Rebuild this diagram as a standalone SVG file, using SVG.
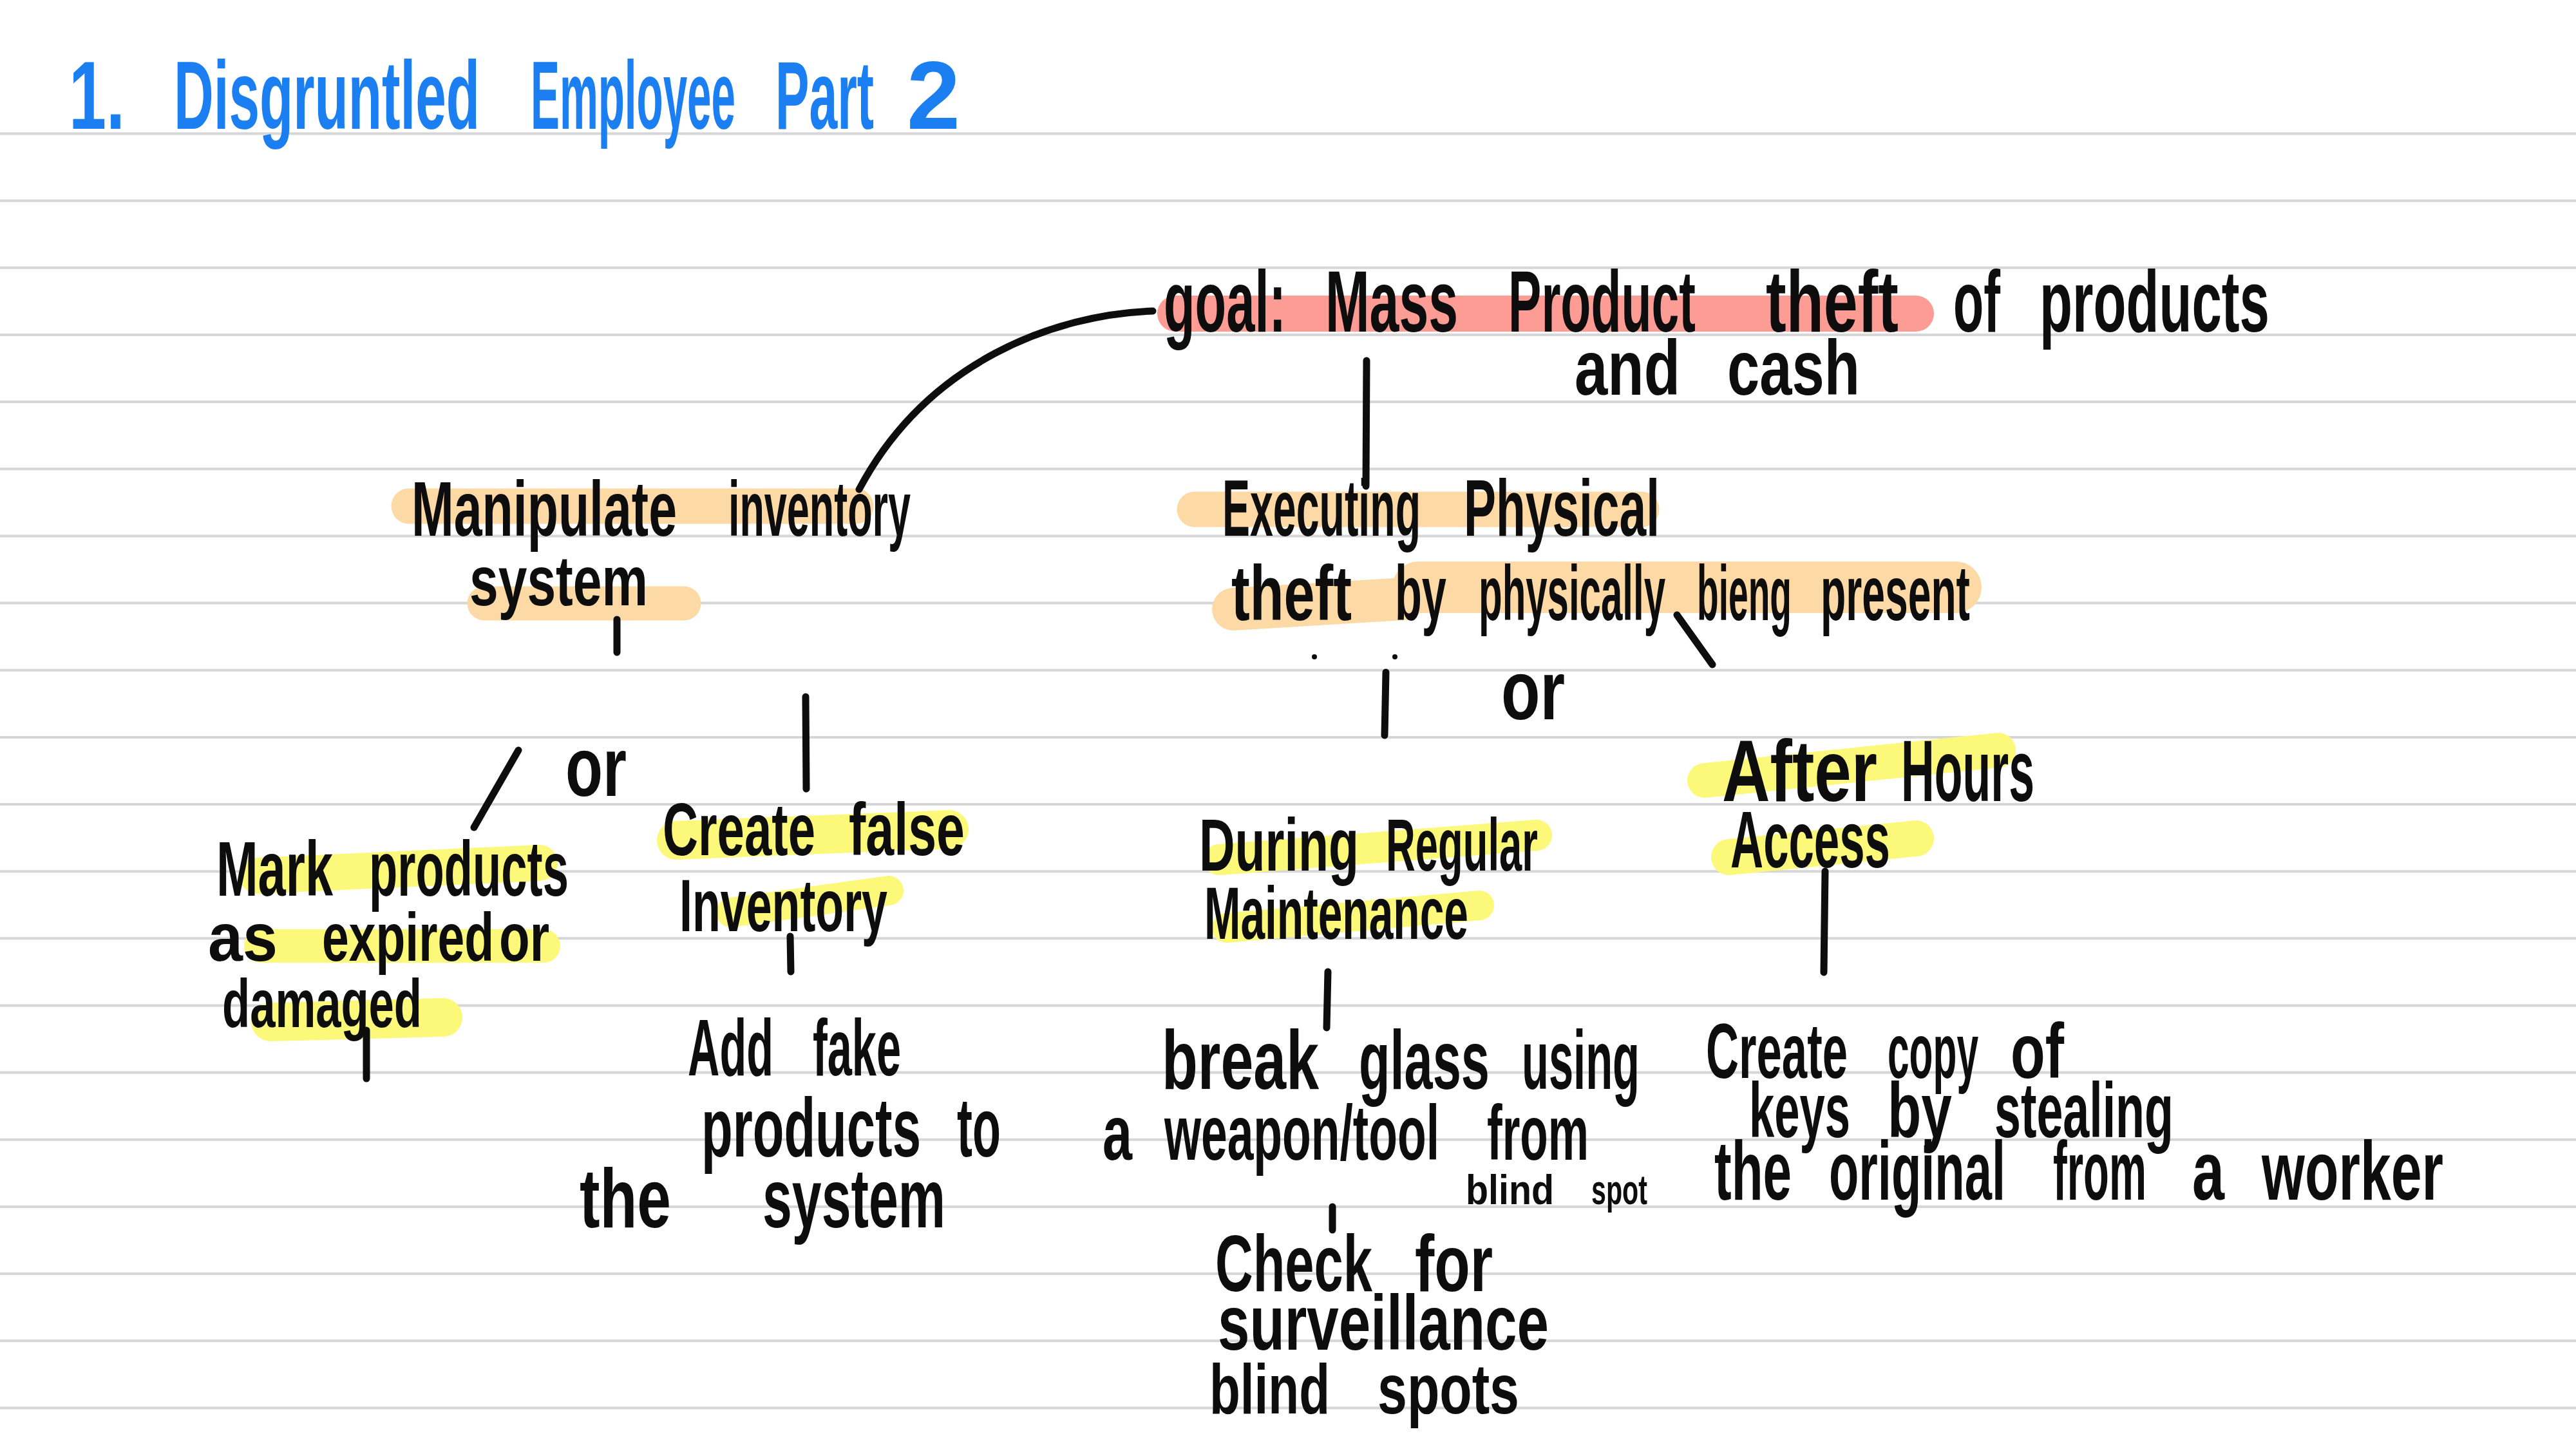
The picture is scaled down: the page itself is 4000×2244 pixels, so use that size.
<svg xmlns="http://www.w3.org/2000/svg" width="4000" height="2244" viewBox="0 0 4000 2244">
<style>
.rule{stroke:#d6d6d6;stroke-width:4}
.t{font-family:"Liberation Sans",Arial,sans-serif;font-weight:bold;fill:#0d0d0d}
.title{font-family:"Liberation Sans",Arial,sans-serif;font-weight:bold;fill:#1b7ff2}
.c{stroke:#0d0d0d;stroke-width:11;stroke-linecap:round;fill:none}
.hy{stroke:#fcf97a;stroke-linecap:round;fill:none}
.ho{stroke:#fddaa5;stroke-linecap:round;fill:none}
.hr{stroke:#fd9b95;stroke-linecap:round;fill:none}
</style>
<rect width="4000" height="2244" fill="#ffffff"/>
<g id="ruled-lines">
<line class="rule" x1="0" x2="4000" y1="207.5" y2="207.5"/>
<line class="rule" x1="0" x2="4000" y1="311.7" y2="311.7"/>
<line class="rule" x1="0" x2="4000" y1="415.8" y2="415.8"/>
<line class="rule" x1="0" x2="4000" y1="520" y2="520"/>
<line class="rule" x1="0" x2="4000" y1="624.1" y2="624.1"/>
<line class="rule" x1="0" x2="4000" y1="728.3" y2="728.3"/>
<line class="rule" x1="0" x2="4000" y1="832.4" y2="832.4"/>
<line class="rule" x1="0" x2="4000" y1="936.6" y2="936.6"/>
<line class="rule" x1="0" x2="4000" y1="1040.7" y2="1040.7"/>
<line class="rule" x1="0" x2="4000" y1="1144.9" y2="1144.9"/>
<line class="rule" x1="0" x2="4000" y1="1249" y2="1249"/>
<line class="rule" x1="0" x2="4000" y1="1353.2" y2="1353.2"/>
<line class="rule" x1="0" x2="4000" y1="1457.3" y2="1457.3"/>
<line class="rule" x1="0" x2="4000" y1="1561.5" y2="1561.5"/>
<line class="rule" x1="0" x2="4000" y1="1665.6" y2="1665.6"/>
<line class="rule" x1="0" x2="4000" y1="1769.8" y2="1769.8"/>
<line class="rule" x1="0" x2="4000" y1="1873.9" y2="1873.9"/>
<line class="rule" x1="0" x2="4000" y1="1978.1" y2="1978.1"/>
<line class="rule" x1="0" x2="4000" y1="2082.2" y2="2082.2"/>
<line class="rule" x1="0" x2="4000" y1="2186.4" y2="2186.4"/>
</g>
<g id="highlights">
<line class="hr" x1="1825" y1="487" x2="2975" y2="487" stroke-width="56"/>
<line class="ho" x1="635" y1="786" x2="1329" y2="786" stroke-width="55"/>
<line class="ho" x1="752" y1="937" x2="1062" y2="937" stroke-width="53"/>
<line class="ho" x1="1855" y1="791" x2="2549" y2="791" stroke-width="55"/>
<line class="ho" x1="1915" y1="946" x2="2180" y2="930" stroke-width="66"/>
<line class="ho" x1="2202" y1="912" x2="3037" y2="912" stroke-width="80"/>
<line class="hy" x1="400" y1="1360" x2="838" y2="1340" stroke-width="56"/>
<line class="hy" x1="405" y1="1469" x2="844" y2="1469" stroke-width="52"/>
<line class="hy" x1="420" y1="1587" x2="688" y2="1580" stroke-width="60"/>
<line class="hy" x1="1050" y1="1305" x2="1474" y2="1288" stroke-width="60"/>
<line class="hy" x1="1135" y1="1417" x2="1380" y2="1383" stroke-width="46"/>
<line class="hy" x1="1893" y1="1335" x2="2386" y2="1297" stroke-width="48"/>
<line class="hy" x1="1905" y1="1441" x2="2297" y2="1406" stroke-width="46"/>
<line class="hy" x1="2647" y1="1212" x2="3103" y2="1165" stroke-width="54"/>
<line class="hy" x1="2685" y1="1331" x2="2975" y2="1302" stroke-width="56"/>
</g>
<g id="connectors">
<path class="c" d="M1790,483 C1640,488 1440,560 1334,760"/>
<line class="c" x1="2122" y1="560" x2="2121" y2="755"/>
<line class="c" x1="958" y1="962" x2="958" y2="1013"/>
<line class="c" x1="805" y1="1165" x2="736" y2="1285"/>
<line class="c" x1="1251" y1="1082" x2="1252" y2="1225"/>
<line class="c" x1="1227" y1="1454" x2="1228" y2="1509"/>
<line class="c" x1="569" y1="1600" x2="569" y2="1675"/>
<line class="c" x1="2604" y1="955" x2="2659" y2="1032"/>
<line class="c" x1="2152" y1="1044" x2="2150" y2="1142"/>
<circle cx="2041" cy="1020" r="4" fill="#0d0d0d"/>
<circle cx="2166" cy="1020" r="4" fill="#0d0d0d"/>
<line class="c" x1="2062" y1="1509" x2="2060" y2="1596"/>
<line class="c" x1="2069" y1="1874" x2="2069" y2="1910"/>
<line class="c" x1="2834" y1="1353" x2="2832" y2="1510"/>
</g>
<g id="title">
<text class="title" y="200" font-size="150"><tspan x="107" textLength="87" lengthAdjust="spacingAndGlyphs">1.</tspan> <tspan x="270" textLength="475" lengthAdjust="spacingAndGlyphs">Disgruntled</tspan> <tspan x="824" textLength="318" lengthAdjust="spacingAndGlyphs">Employee</tspan> <tspan x="1204" textLength="153" lengthAdjust="spacingAndGlyphs">Part</tspan> <tspan x="1408" textLength="83" lengthAdjust="spacingAndGlyphs">2</tspan></text>
</g>
<g id="goal">
<text class="t" y="515" font-size="135"><tspan x="1807" textLength="190" lengthAdjust="spacingAndGlyphs">goal:</tspan> <tspan x="2058" textLength="206" lengthAdjust="spacingAndGlyphs">Mass</tspan> <tspan x="2342" textLength="291" lengthAdjust="spacingAndGlyphs">Product</tspan> <tspan x="2742" textLength="206" lengthAdjust="spacingAndGlyphs">theft</tspan> <tspan x="3033" textLength="73" lengthAdjust="spacingAndGlyphs">of</tspan> <tspan x="3167" textLength="357" lengthAdjust="spacingAndGlyphs">products</tspan></text>
<text class="t" y="613" font-size="120"><tspan x="2445" textLength="164" lengthAdjust="spacingAndGlyphs">and</tspan> <tspan x="2682" textLength="206" lengthAdjust="spacingAndGlyphs">cash</tspan></text>
</g>
<g id="manipulate-inventory">
<text class="t" y="832" font-size="120"><tspan x="639" textLength="412" lengthAdjust="spacingAndGlyphs">Manipulate</tspan> <tspan x="1131" textLength="283" lengthAdjust="spacingAndGlyphs">inventory</tspan></text>
<text class="t" y="940" font-size="110"><tspan x="729" textLength="277" lengthAdjust="spacingAndGlyphs">system</tspan></text>
</g>
<g id="executing-physical">
<text class="t" y="832" font-size="125"><tspan x="1898" textLength="308" lengthAdjust="spacingAndGlyphs">Executing</tspan> <tspan x="2273" textLength="304" lengthAdjust="spacingAndGlyphs">Physical</tspan></text>
<text class="t" y="963" font-size="120"><tspan x="1912" textLength="187" lengthAdjust="spacingAndGlyphs">theft</tspan> <tspan x="2166" textLength="80" lengthAdjust="spacingAndGlyphs">by</tspan> <tspan x="2296" textLength="290" lengthAdjust="spacingAndGlyphs">physically</tspan> <tspan x="2635" textLength="147" lengthAdjust="spacingAndGlyphs">bieng</tspan> <tspan x="2827" textLength="232" lengthAdjust="spacingAndGlyphs">present</tspan></text>
</g>
<g id="or-left">
<text class="t" y="1236" font-size="130"><tspan x="878" textLength="95" lengthAdjust="spacingAndGlyphs">or</tspan></text>
</g>
<g id="or-middle">
<text class="t" y="1117" font-size="130"><tspan x="2331" textLength="99" lengthAdjust="spacingAndGlyphs">or</tspan></text>
</g>
<g id="mark-products">
<text class="t" y="1391" font-size="120"><tspan x="336" textLength="181" lengthAdjust="spacingAndGlyphs">Mark</tspan> <tspan x="573" textLength="310" lengthAdjust="spacingAndGlyphs">products</tspan></text>
<text class="t" y="1492" font-size="105"><tspan x="323" textLength="108" lengthAdjust="spacingAndGlyphs">as</tspan> <tspan x="500" textLength="267" lengthAdjust="spacingAndGlyphs">expired</tspan> <tspan x="775" textLength="78" lengthAdjust="spacingAndGlyphs">or</tspan></text>
<text class="t" y="1595" font-size="105"><tspan x="345" textLength="310" lengthAdjust="spacingAndGlyphs">damaged</tspan></text>
</g>
<g id="create-false-inventory">
<text class="t" y="1328" font-size="115"><tspan x="1029" textLength="237" lengthAdjust="spacingAndGlyphs">Create</tspan> <tspan x="1318" textLength="180" lengthAdjust="spacingAndGlyphs">false</tspan></text>
<text class="t" y="1446" font-size="115"><tspan x="1055" textLength="323" lengthAdjust="spacingAndGlyphs">Inventory</tspan></text>
</g>
<g id="add-fake-products">
<text class="t" y="1670" font-size="125"><tspan x="1068" textLength="133" lengthAdjust="spacingAndGlyphs">Add</tspan> <tspan x="1262" textLength="137" lengthAdjust="spacingAndGlyphs">fake</tspan></text>
<text class="t" y="1796" font-size="130"><tspan x="1089" textLength="341" lengthAdjust="spacingAndGlyphs">products</tspan> <tspan x="1486" textLength="68" lengthAdjust="spacingAndGlyphs">to</tspan></text>
<text class="t" y="1906" font-size="130"><tspan x="900" textLength="142" lengthAdjust="spacingAndGlyphs">the</tspan> <tspan x="1184" textLength="284" lengthAdjust="spacingAndGlyphs">system</tspan></text>
</g>
<g id="during-regular-maintenance">
<text class="t" y="1352" font-size="115"><tspan x="1862" textLength="248" lengthAdjust="spacingAndGlyphs">During</tspan> <tspan x="2152" textLength="236" lengthAdjust="spacingAndGlyphs">Regular</tspan></text>
<text class="t" y="1458" font-size="115"><tspan x="1870" textLength="410" lengthAdjust="spacingAndGlyphs">Maintenance</tspan></text>
</g>
<g id="after-hours-access">
<text class="t" y="1244" font-size="135"><tspan x="2674" textLength="241" lengthAdjust="spacingAndGlyphs">After</tspan> <tspan x="2952" textLength="207" lengthAdjust="spacingAndGlyphs">Hours</tspan></text>
<text class="t" y="1347" font-size="125"><tspan x="2687" textLength="248" lengthAdjust="spacingAndGlyphs">Access</tspan></text>
</g>
<g id="break-glass">
<text class="t" y="1691" font-size="130"><tspan x="1804" textLength="244" lengthAdjust="spacingAndGlyphs">break</tspan> <tspan x="2110" textLength="203" lengthAdjust="spacingAndGlyphs">glass</tspan> <tspan x="2363" textLength="183" lengthAdjust="spacingAndGlyphs">using</tspan></text>
<text class="t" y="1801" font-size="120"><tspan x="1712" textLength="46" lengthAdjust="spacingAndGlyphs">a</tspan> <tspan x="1808" textLength="427" lengthAdjust="spacingAndGlyphs">weapon/tool</tspan> <tspan x="2309" textLength="158" lengthAdjust="spacingAndGlyphs">from</tspan></text>
<text class="t" y="1870" font-size="65"><tspan x="2276" textLength="137" lengthAdjust="spacingAndGlyphs">blind</tspan> <tspan x="2471" textLength="87" lengthAdjust="spacingAndGlyphs">spot</tspan></text>
</g>
<g id="check-blind-spots">
<text class="t" y="2005" font-size="125"><tspan x="1887" textLength="244" lengthAdjust="spacingAndGlyphs">Check</tspan> <tspan x="2197" textLength="121" lengthAdjust="spacingAndGlyphs">for</tspan></text>
<text class="t" y="2096" font-size="120"><tspan x="1891" textLength="514" lengthAdjust="spacingAndGlyphs">surveillance</tspan></text>
<text class="t" y="2195" font-size="110"><tspan x="1878" textLength="187" lengthAdjust="spacingAndGlyphs">blind</tspan> <tspan x="2139" textLength="220" lengthAdjust="spacingAndGlyphs">spots</tspan></text>
</g>
<g id="create-copy-keys">
<text class="t" y="1674" font-size="120"><tspan x="2649" textLength="220" lengthAdjust="spacingAndGlyphs">Create</tspan> <tspan x="2931" textLength="141" lengthAdjust="spacingAndGlyphs">copy</tspan> <tspan x="3122" textLength="83" lengthAdjust="spacingAndGlyphs">of</tspan></text>
<text class="t" y="1766" font-size="120"><tspan x="2716" textLength="157" lengthAdjust="spacingAndGlyphs">keys</tspan> <tspan x="2931" textLength="100" lengthAdjust="spacingAndGlyphs">by</tspan> <tspan x="3097" textLength="278" lengthAdjust="spacingAndGlyphs">stealing</tspan></text>
<text class="t" y="1863" font-size="130"><tspan x="2662" textLength="120" lengthAdjust="spacingAndGlyphs">the</tspan> <tspan x="2840" textLength="274" lengthAdjust="spacingAndGlyphs">original</tspan> <tspan x="3188" textLength="145" lengthAdjust="spacingAndGlyphs">from</tspan> <tspan x="3404" textLength="50" lengthAdjust="spacingAndGlyphs">a</tspan> <tspan x="3512" textLength="282" lengthAdjust="spacingAndGlyphs">worker</tspan></text>
</g>
</svg>
